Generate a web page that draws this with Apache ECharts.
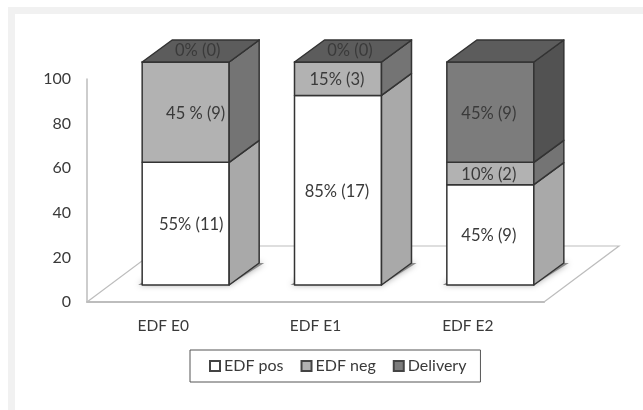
<!DOCTYPE html>
<html>
<head>
<meta charset="utf-8">
<style>html,body{margin:0;padding:0;background:#fff}#chart{width:643px;height:410px}</style>
<script src="https://cdn.jsdelivr.net/npm/echarts@6/dist/echarts.min.js"></script>
</head>
<body>
<div id="chart"></div>
<script>
// Outcome share per EDF group, in percent, with the printed labels
const categories = ['EDF E0', 'EDF E1', 'EDF E2'];
const edfPos = [55, 85, 45];
const edfNeg = [45, 15, 10];
const delivery = [0, 0, 45];
const edfPosLabels = ['55% (11)', '85% (17)', '45% (9)'];
const edfNegLabels = ['45 % (9)', '15% (3)', '10% (2)'];
const deliveryLabels = ['0% (0)', '0% (0)', '45% (9)'];
const yTicks = [0, 20, 40, 60, 80, 100];

const FONT = 'Lato, "Open Sans", sans-serif';
const TEXT = '#3a3a3a';
const EDGE = '#333333';

// Oblique projection used to fake the 3D column look
const FLOOR_DX = 75, FLOOR_DY = -56;
const BAR_SHIFT_X = 22.5, BAR_SHIFT_Y = -17;
const BAR_W = 87, DEPTH_X = 30, DEPTH_Y = -22;

function cuboid(api, shade, showTop, withShadow, labelDx) {
  const cat = api.value(0), base = api.value(1), end = api.value(2);
  const cx = api.coord([cat, 0])[0] + BAR_SHIFT_X;
  const y0 = api.coord([cat, base])[1] + BAR_SHIFT_Y;
  const y1 = api.coord([cat, end])[1] + BAR_SHIFT_Y;
  const l = cx - BAR_W / 2, r = cx + BAR_W / 2;
  const line = { stroke: EDGE, lineWidth: 1.5, lineJoin: 'round' };
  const kids = [];
  if (withShadow) {
    kids.push({
      type: 'polygon',
      shape: { points: [[l - 4, y0], [r, y0], [r + DEPTH_X + 5, y0 + DEPTH_Y], [l + DEPTH_X, y0 + DEPTH_Y]] },
      style: { fill: '#8c8c8c', shadowBlur: 6, shadowColor: 'rgba(0,0,0,0.35)' }
    });
  }
  kids.push({
    type: 'polygon',
    shape: { points: [[l, y0], [r, y0], [r, y1], [l, y1]] },
    style: Object.assign({ fill: shade.front }, line)
  });
  kids.push({
    type: 'polygon',
    shape: { points: [[r, y0], [r + DEPTH_X, y0 + DEPTH_Y], [r + DEPTH_X, y1 + DEPTH_Y], [r, y1]] },
    style: Object.assign({ fill: shade.side }, line)
  });
  if (showTop) {
    kids.push({
      type: 'polygon',
      shape: { points: [[l, y1], [r, y1], [r + DEPTH_X, y1 + DEPTH_Y], [l + DEPTH_X, y1 + DEPTH_Y]] },
      style: Object.assign({ fill: shade.top }, line)
    });
  }
  const onTop = end === base;
  kids.push({
    type: 'text',
    style: {
      x: onTop ? cx + DEPTH_X / 2 - 3 : cx + labelDx[cat],
      y: onTop ? y1 + DEPTH_Y / 2 : (y0 + y1) / 2 + 1,
      text: api.value(3),
      fill: TEXT,
      font: '16.5px ' + FONT,
      align: 'center',
      verticalAlign: 'middle'
    }
  });
  return { type: 'group', children: kids };
}

function stackSeries(name, shade, rows, opts) {
  return {
    type: 'custom',
    name,
    coordinateSystem: 'cartesian2d',
    itemStyle: { color: shade.front, borderColor: '#444', borderWidth: 1 },
    encode: { x: 0, y: 2 },
    data: rows,
    z: 3,
    silent: true,
    renderItem: (p, api) => cuboid(api, shade, opts.top, opts.shadow, opts.labelDx)
  };
}

const rowsPos = categories.map((c, i) => [i, 0, edfPos[i], edfPosLabels[i]]);
const rowsNeg = categories.map((c, i) => [i, edfPos[i], edfPos[i] + edfNeg[i], edfNegLabels[i]]);
const rowsDel = categories.map((c, i) => [i, edfPos[i] + edfNeg[i], edfPos[i] + edfNeg[i] + delivery[i], deliveryLabels[i]]);

const chart = echarts.init(document.getElementById('chart'), null, { renderer: 'canvas' });
chart.setOption({
  animation: false,
  backgroundColor: '#fff',
  textStyle: { fontFamily: FONT },
  grid: { left: 87, top: 79, width: 457, height: 223 },
  xAxis: {
    type: 'category',
    data: categories,
    axisLine: { lineStyle: { color: '#bdbdbd', width: 2 } },
    axisTick: { show: false },
    axisLabel: { color: TEXT, fontSize: 15.5, fontFamily: FONT, margin: 16 }
  },
  yAxis: {
    type: 'value',
    min: 0,
    max: 100,
    interval: 20,
    splitLine: { show: false },
    axisLine: { show: true, lineStyle: { color: '#bdbdbd', width: 1.5 } },
    axisTick: { show: false },
    axisLabel: { color: TEXT, fontSize: 16, fontFamily: FONT, margin: 16, padding: [3, 0, 0, 0], formatter: v => yTicks.includes(v) ? String(v) : '' }
  },
  legend: {
    left: 190,
    top: 350,
    padding: [8, 14, 8, 19],
    orient: 'horizontal',
    itemWidth: 10,
    itemHeight: 10,
    itemGap: 17,
    borderColor: '#555',
    borderWidth: 1,
    backgroundColor: '#fff',
    icon: 'rect',
    textStyle: { color: TEXT, fontSize: 16, fontFamily: FONT, padding: [0, 0, 0, -1] },
    data: ['EDF pos', 'EDF neg', 'Delivery']
  },
  graphic: [
    // Pale L-shaped frame along the top and left of the figure
    { type: 'rect', z: -1, shape: { x: 8, y: 7, width: 635, height: 7 }, style: { fill: '#f1f1f1' } },
    { type: 'rect', z: -1, shape: { x: 8, y: 7, width: 7, height: 403 }, style: { fill: '#f1f1f1' } }
  ],
  series: [
    {
      // Outline of the plot floor seen in perspective
      type: 'custom',
      coordinateSystem: 'cartesian2d',
      silent: true,
      z: 1,
      data: [[0, 0]],
      renderItem: (p, api) => {
        const c = p.coordSys;
        const bottom = c.y + c.height, right = c.x + c.width;
        return {
          type: 'polyline',
          shape: { points: [[c.x, bottom], [c.x + FLOOR_DX, bottom + FLOOR_DY], [right + FLOOR_DX, bottom + FLOOR_DY], [right, bottom]] },
          style: { stroke: '#bdbdbd', lineWidth: 1.2, fill: null }
        };
      }
    },
    stackSeries('EDF pos', { front: '#ffffff', side: '#a9a9a9', top: '#d0d0d0' }, rowsPos, { top: false, shadow: true, labelDx: [5.5, -1, -1.5] }),
    stackSeries('EDF neg', { front: '#b2b2b2', side: '#747474', top: '#8a8a8a' }, rowsNeg, { top: false, shadow: false, labelDx: [10, -1, -1.5] }),
    stackSeries('Delivery', { front: '#7c7c7c', side: '#525252', top: '#5c5c5c' }, rowsDel, { top: true, shadow: false, labelDx: [0, 0, -1.5] })
  ]
});
</script>
</body>
</html>
